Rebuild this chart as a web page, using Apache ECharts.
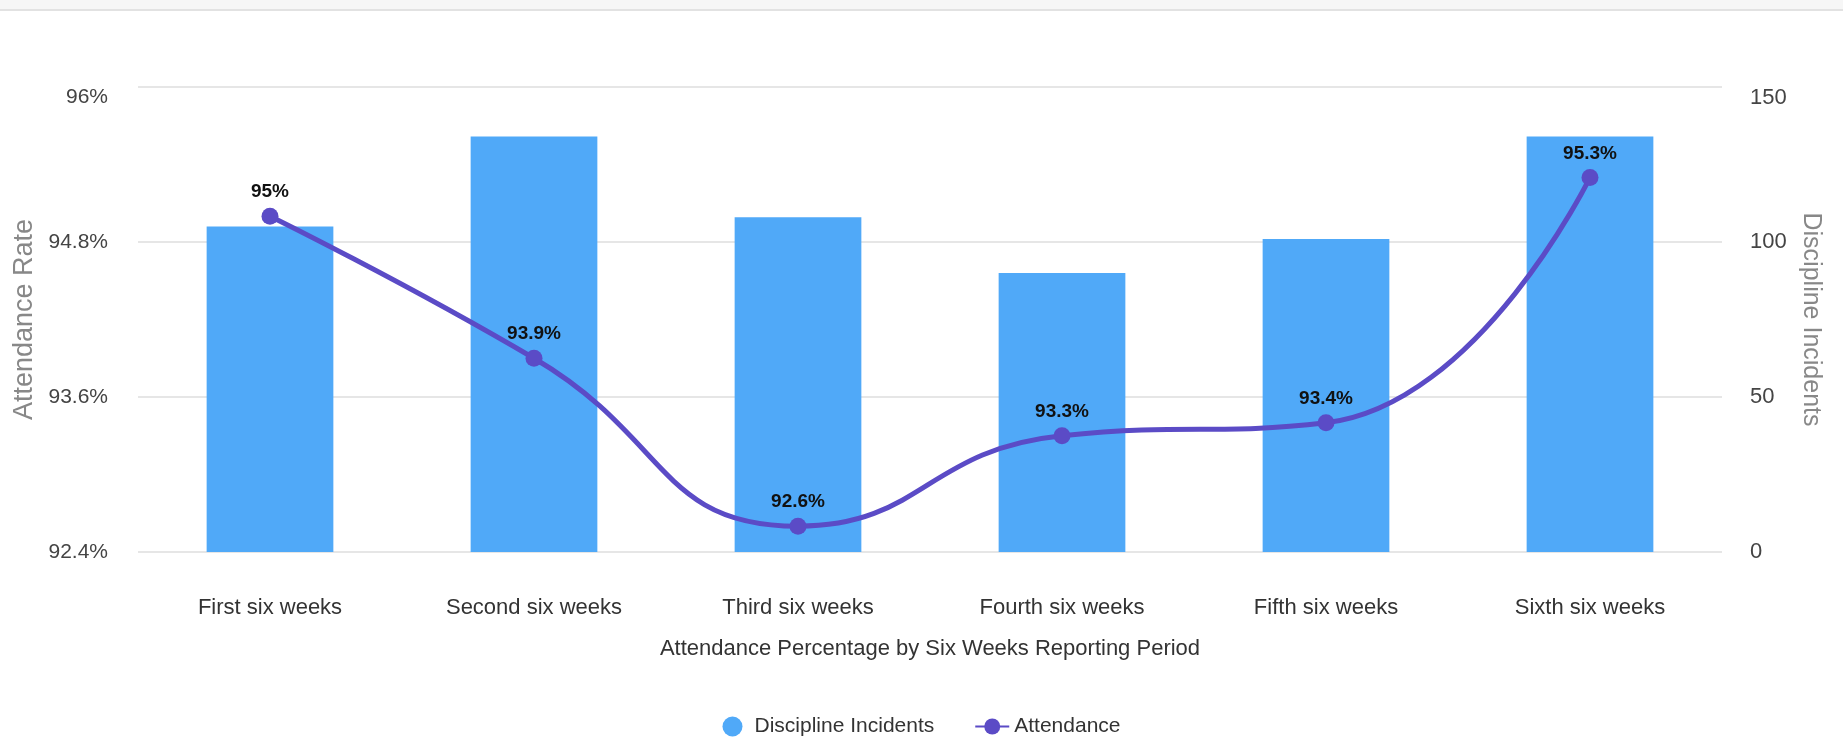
<!DOCTYPE html>
<html>
<head>
<meta charset="utf-8">
<script src="https://cdn.jsdelivr.net/npm/echarts@6/dist/echarts.min.js"></script>
<style>
html,body{margin:0;padding:0;background:#fff;}
#topbar{position:absolute;left:0;top:0;width:1843px;height:9px;background:#f6f6f6;border-bottom:2px solid #e2e2e2;}
#chart{position:absolute;left:0;top:0;width:1843px;height:741px;}
</style>
</head>
<body>
<div id="chart"></div>
<div id="topbar"></div>
<script>
const categories = ["First six weeks","Second six weeks","Third six weeks","Fourth six weeks","Fifth six weeks","Sixth six weeks"];
const disciplineIncidents = [105, 134, 108, 90, 101, 134];
const attendance = [95, 93.9, 92.6, 93.3, 93.4, 95.3];
const leftTicks = {min: 92.4, max: 96, interval: 1.2};
const rightTicks = {min: 0, max: 150, interval: 50};

const FONT = "'Liberation Sans', Arial, sans-serif";
const chart = echarts.init(document.getElementById('chart'));
chart.setOption({
  animation: false,
  textStyle: {fontFamily: FONT},
  grid: {left: 138, right: 121, top: 87, bottom: 189, containLabel: false},
  legend: {
    top: 711, left: 'center', itemGap: 40, itemWidth: 34, itemHeight: 20,
    textStyle: {fontFamily: FONT, fontSize: 21, color: '#333'},
    data: [{name: 'Discipline Incidents', icon: 'circle'}, {name: 'Attendance'}]
  },
  xAxis: {
    type: 'category', data: categories,
    axisLine: {show: false}, axisTick: {show: false},
    axisLabel: {fontFamily: FONT, fontSize: 22, color: '#333', margin: 45, interval: 0},
    name: 'Attendance Percentage by Six Weeks Reporting Period',
    nameLocation: 'middle', nameGap: 86,
    nameTextStyle: {fontFamily: FONT, fontSize: 22, color: '#333'}
  },
  yAxis: [{
    type: 'value', min: leftTicks.min, max: leftTicks.max, interval: leftTicks.interval,
    axisLine: {show: false}, axisTick: {show: false},
    splitLine: {lineStyle: {color: '#e6e6e6', width: 2}},
    axisLabel: {fontFamily: FONT, fontSize: 21, color: '#444', margin: 30,
      verticalAlignMaxLabel: 'top',
      formatter: v => parseFloat(v.toFixed(1)) + '%'},
    name: 'Attendance Rate', nameLocation: 'middle', nameGap: 100,
    nameTextStyle: {fontFamily: FONT, fontSize: 27, color: '#888'}
  }, {
    type: 'value', min: rightTicks.min, max: rightTicks.max, interval: rightTicks.interval,
    position: 'right',
    axisLine: {show: false}, axisTick: {show: false}, splitLine: {show: false},
    axisLabel: {fontFamily: FONT, fontSize: 22, color: '#444', margin: 28,
      verticalAlignMaxLabel: 'top'},
    name: 'Discipline Incidents', nameLocation: 'middle', nameGap: 76, nameRotate: -90,
    nameTextStyle: {fontFamily: FONT, fontSize: 25, color: '#888'}
  }],
  series: [{
    name: 'Discipline Incidents', type: 'bar', yAxisIndex: 1,
    data: disciplineIncidents, barWidth: '48%',
    itemStyle: {color: '#50a9f8'}, z: 1
  }, {
    name: 'Attendance', type: 'line', yAxisIndex: 0,
    data: attendance, smooth: 0.5,
    symbol: 'circle', symbolSize: 17,
    lineStyle: {color: '#5b4bc6', width: 5},
    itemStyle: {color: '#5b4bc6'},
    label: {show: true, position: 'top', distance: 6, formatter: p => p.value + '%',
      fontFamily: FONT, fontSize: 19, fontWeight: 'bold', color: '#111'},
    z: 3
  }]
});
</script>
</body>
</html>
